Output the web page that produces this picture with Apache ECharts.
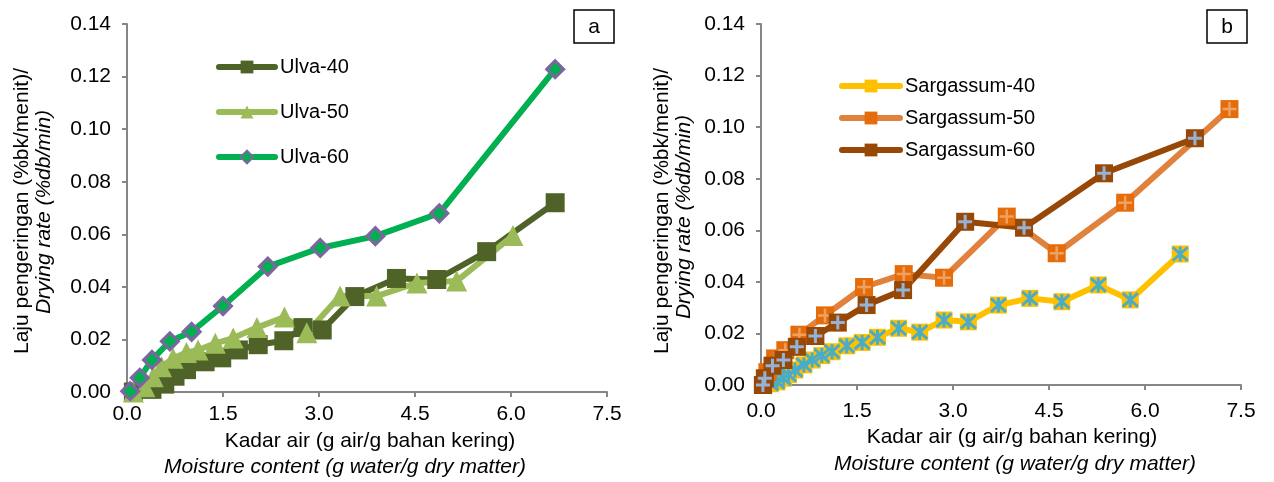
<!DOCTYPE html>
<html>
<head>
<meta charset="utf-8">
<script src="https://cdn.jsdelivr.net/npm/echarts@6/dist/echarts.min.js"></script>
<style>
  html, body { margin: 0; padding: 0; background: #fff; }
  #chart { width: 1274px; height: 482px; }
</style>
</head>
<body>
<div id="chart"></div>
<script>
// ---- data ----
var xTicks = [0, 1.5, 3.0, 4.5, 6.0, 7.5];
var yTicks = [0, 0.02, 0.04, 0.06, 0.08, 0.10, 0.12, 0.14];

var ulva40X = [0.1, 0.39, 0.59, 0.75, 0.93, 1.22, 1.48, 1.74, 2.05, 2.45, 2.75, 3.05, 3.56, 4.21, 4.84, 5.62, 6.69];
var ulva40Y = [0.000, 0.001, 0.003, 0.006, 0.0085, 0.0115, 0.013, 0.016, 0.018, 0.0195, 0.0245, 0.0236, 0.0363, 0.0432, 0.0428, 0.0534, 0.0720];

var ulva50X = [0.1, 0.28, 0.41, 0.54, 0.72, 0.93, 1.11, 1.38, 1.66, 2.03, 2.46, 2.81, 3.33, 3.9, 4.53, 5.15, 6.03];
var ulva50Y = [0.000, 0.002, 0.0058, 0.0096, 0.0128, 0.0150, 0.016, 0.0185, 0.0205, 0.0245, 0.0285, 0.0225, 0.0365, 0.0365, 0.0415, 0.0422, 0.0595];

var ulva60X = [0.05, 0.2, 0.39, 0.67, 1.01, 1.5, 2.2, 3.02, 3.88, 4.88, 6.69];
var ulva60Y = [0.0003, 0.0054, 0.0122, 0.0193, 0.0229, 0.0327, 0.0477, 0.0548, 0.0593, 0.068, 0.1228];

var sarg40X = [0.05, 0.15, 0.25, 0.35, 0.43, 0.53, 0.67, 0.8, 0.95, 1.11, 1.34, 1.58, 1.82, 2.15, 2.48, 2.86, 3.24, 3.71, 4.2, 4.7, 5.27, 5.77, 6.55];
var sarg40Y = [0.000, 0.0005, 0.0012, 0.0026, 0.004, 0.0058, 0.0078, 0.0097, 0.0114, 0.0129, 0.0152, 0.0165, 0.0185, 0.022, 0.0205, 0.0252, 0.0245, 0.031, 0.0336, 0.0323, 0.0388, 0.033, 0.0508];

var sarg50X = [0.03, 0.1, 0.22, 0.38, 0.6, 1.0, 1.61, 2.23, 2.86, 3.84, 4.62, 5.69, 7.32];
var sarg50Y = [0.000, 0.005, 0.0103, 0.0135, 0.0195, 0.027, 0.038, 0.043, 0.0416, 0.0653, 0.0511, 0.0707, 0.107];

var sarg60X = [0.03, 0.06, 0.18, 0.35, 0.56, 0.85, 1.2, 1.65, 2.22, 3.19, 4.11, 5.36, 6.78];
var sarg60Y = [0.000, 0.0026, 0.0075, 0.0097, 0.0148, 0.019, 0.0242, 0.031, 0.0368, 0.0633, 0.061, 0.0821, 0.0957];

var namesA = ['Ulva-40', 'Ulva-50', 'Ulva-60'];
var namesB = ['Sargassum-40', 'Sargassum-50', 'Sargassum-60'];

var titleY1 = 'Laju pengeringan (%bk/menit)/';
var titleY2 = 'Drying rate (%db/min)';
var titleX1 = 'Kadar air (g air/g bahan kering)';
var titleX2 = 'Moisture content (g water/g dry matter)';

// ---- helpers ----
function pairs(xs, ys) {
  return xs.map(function (x, i) { return [x, ys[i]]; });
}

var FONT = 'Liberation Sans, Arial, sans-serif';
var axisGray = '#868686';
var PLUS = 'path://M10,0L10,20M0,10L20,10';
var STAR = 'path://M1,1L19,19M19,1L1,19M10,0L10,20';

function xAxisOf(idx, margin) {
  return {
    type: 'value', gridIndex: idx, min: xTicks[0], max: xTicks[xTicks.length - 1], interval: 1.5,
    axisLine: { show: true, lineStyle: { color: axisGray, width: 2 } },
    axisTick: { show: true, length: 5, lineStyle: { color: axisGray, width: 2 } },
    splitLine: { show: false },
    axisLabel: { color: '#000', fontSize: 21, fontFamily: FONT, margin: margin,
      formatter: function (v) { return v.toFixed(1); } }
  };
}
function yAxisOf(idx) {
  return {
    type: 'value', gridIndex: idx, min: yTicks[0], max: yTicks[yTicks.length - 1], interval: 0.02,
    axisLine: { show: true, lineStyle: { color: axisGray, width: 2 } },
    axisTick: { show: true, length: 5, lineStyle: { color: axisGray, width: 2 } },
    splitLine: { show: false },
    axisLabel: { color: '#000', fontSize: 21, fontFamily: FONT, margin: 16,
      formatter: function (v) { return v.toFixed(2); } }
  };
}

function mainSeries(name, idx, data, color, symbol, size, itemStyle) {
  return {
    name: name, type: 'line', xAxisIndex: idx, yAxisIndex: idx, data: data,
    symbol: symbol, symbolSize: size, showAllSymbol: true,
    lineStyle: { color: color, width: 6 },
    itemStyle: itemStyle || { color: color },
    emphasis: { disabled: true }, animation: false
  };
}
function overlay(idx, data, color, symbol, size, width) {
  return {
    name: '_', type: 'line', xAxisIndex: idx, yAxisIndex: idx, data: data,
    symbol: symbol, symbolSize: size, showAllSymbol: true,
    lineStyle: { width: 0, opacity: 0 },
    itemStyle: { color: 'rgba(0,0,0,0)', borderColor: color, borderWidth: width },
    silent: true, emphasis: { disabled: true }, animation: false
  };
}

var legendText = { fontSize: 20, fontFamily: FONT, color: '#000' };

var chart = echarts.init(document.getElementById('chart'));
var option = {
  backgroundColor: '#fff',
  animation: false,
  grid: [
    { left: 127, top: 24, width: 480, height: 368 },
    { left: 761, top: 24, width: 480, height: 361 }
  ],
  xAxis: [xAxisOf(0, 12), xAxisOf(1, 16)],
  yAxis: [yAxisOf(0), yAxisOf(1)],
  legend: [
    { data: namesA, orient: 'vertical', left: 211, top: 52, itemWidth: 56, itemHeight: 16, itemGap: 25,
      lineStyle: { width: 6, cap: 'round' }, textStyle: legendText },
    { data: namesB, orient: 'vertical', left: 834, top: 71, itemWidth: 58, itemHeight: 16, itemGap: 12,
      lineStyle: { width: 6, cap: 'round' }, textStyle: legendText }
  ],
  series: [
    mainSeries(namesA[0], 0, pairs(ulva40X, ulva40Y), '#4F6228', 'rect', 19),
    mainSeries(namesA[1], 0, pairs(ulva50X, ulva50Y), '#9BBB59', 'triangle', 21),
    mainSeries(namesA[2], 0, pairs(ulva60X, ulva60Y), '#00B050', 'diamond', 17,
      { color: '#00B050', borderColor: '#8064A2', borderWidth: 3 }),

    mainSeries(namesB[0], 1, pairs(sarg40X, sarg40Y), '#FFC000', 'rect', 17),
    overlay(1, pairs(sarg40X, sarg40Y), '#4BACC6', STAR, 15, 3),
    mainSeries(namesB[1], 1, pairs(sarg50X, sarg50Y), '#E0823D', 'rect', 18,
      { color: '#E46C0A' }),
    overlay(1, pairs(sarg50X, sarg50Y), '#F0A060', PLUS, 14, 2.5),
    mainSeries(namesB[2], 1, pairs(sarg60X, sarg60Y), '#974706', 'rect', 18),
    overlay(1, pairs(sarg60X, sarg60Y), '#95B3D7', PLUS, 14, 3)
  ],
  graphic: [
    { type: 'rect', shape: { x: 574, y: 10, width: 40, height: 33 }, style: { fill: '#fff', stroke: '#000', lineWidth: 1.5 } },
    { type: 'text', x: 594, y: 27, style: { text: 'a', font: '21px ' + FONT, fill: '#000', align: 'center', verticalAlign: 'middle' } },
    { type: 'rect', shape: { x: 1207, y: 10, width: 40, height: 33 }, style: { fill: '#fff', stroke: '#000', lineWidth: 1.5 } },
    { type: 'text', x: 1227, y: 27, style: { text: 'b', font: '21px ' + FONT, fill: '#000', align: 'center', verticalAlign: 'middle' } },

    { type: 'text', x: 22, y: 211, rotation: Math.PI / 2, style: { text: titleY1, font: '21px ' + FONT, fill: '#000', align: 'center', verticalAlign: 'middle' } },
    { type: 'text', x: 44, y: 212, rotation: Math.PI / 2, style: { text: titleY2, font: 'italic 21px ' + FONT, fill: '#000', align: 'center', verticalAlign: 'middle' } },
    { type: 'text', x: 662, y: 211, rotation: Math.PI / 2, style: { text: titleY1, font: '21px ' + FONT, fill: '#000', align: 'center', verticalAlign: 'middle' } },
    { type: 'text', x: 684, y: 217, rotation: Math.PI / 2, style: { text: titleY2, font: 'italic 21px ' + FONT, fill: '#000', align: 'center', verticalAlign: 'middle' } },

    { type: 'text', x: 370, y: 441, style: { text: titleX1, font: '21px ' + FONT, fill: '#000', align: 'center', verticalAlign: 'middle' } },
    { type: 'text', x: 345, y: 467, style: { text: titleX2, font: 'italic 21px ' + FONT, fill: '#000', align: 'center', verticalAlign: 'middle' } },
    { type: 'text', x: 1012, y: 437, style: { text: titleX1, font: '21px ' + FONT, fill: '#000', align: 'center', verticalAlign: 'middle' } },
    { type: 'text', x: 1015, y: 464, style: { text: titleX2, font: 'italic 21px ' + FONT, fill: '#000', align: 'center', verticalAlign: 'middle' } }
  ]
};
chart.setOption(option);
</script>
</body>
</html>
